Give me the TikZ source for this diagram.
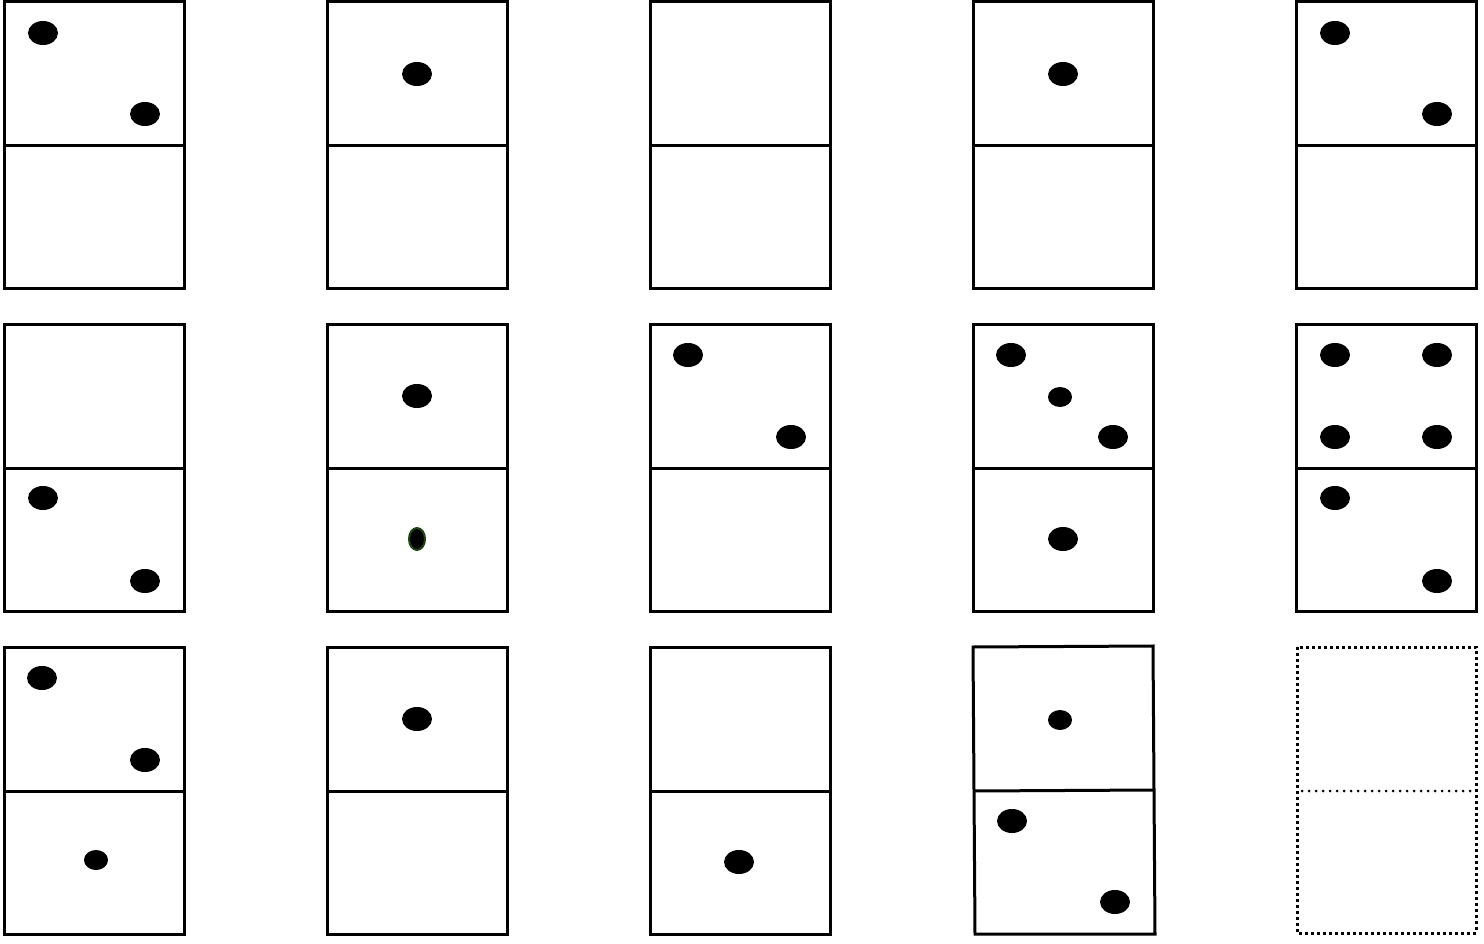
\documentclass[tikz,border=0pt]{standalone}
\definecolor{pipgreen}{RGB}{30,70,20}
\tikzset{
  tile/.style={draw=black,line width=3pt},
  halfline/.style={draw=black,line width=3pt},
  dottile/.style={draw=black,line width=3pt,dash pattern=on 3pt off 3pt},
  dothalf/.style={draw=black,line width=3pt,dash pattern=on 0pt off 7pt,line cap=round},
  pip/.style={fill=black},
}
\newcommand{\domino}[2]{%
  \draw[tile] (#1,#2) rectangle ++(180,287);
  \draw[halfline] (#1,#2+144) -- ++(180,0);
}
\newcommand{\bigpip}[2]{\fill[pip] (#1,#2) ellipse [x radius=15pt, y radius=12pt];}
\newcommand{\smallpip}[2]{\fill[pip] (#1,#2) ellipse [x radius=12pt, y radius=10pt];}
\begin{document}
\begin{tikzpicture}[x=1pt,y=-1pt]
\useasboundingbox (0,0) rectangle (1484,944);
% row 1
\domino{4}{2}\domino{327}{2}\domino{650}{2}\domino{973}{2}\domino{1296}{2}
\bigpip{43}{33}\bigpip{145}{114}
\bigpip{417}{74}
\bigpip{1063}{74}
\bigpip{1335}{33}\bigpip{1437}{114}
% row 2
\domino{4}{324}\domino{327}{324}\domino{650}{324}\domino{973}{324}\domino{1296}{324}
\bigpip{43}{498}\bigpip{145}{581}
\bigpip{417}{396}
\filldraw[fill=black,draw=pipgreen,line width=2pt] (417,539) ellipse [x radius=8pt, y radius=11pt];
\bigpip{688}{355}\bigpip{791}{437}
\bigpip{1011}{355}\smallpip{1060}{397}\bigpip{1113}{437}
\bigpip{1063}{539}
\bigpip{1335}{355}\bigpip{1437}{355}\bigpip{1335}{437}\bigpip{1437}{437}
\bigpip{1335}{498}\bigpip{1437}{581}
% row 3
\domino{4}{647}\domino{327}{647}\domino{650}{647}
\draw[tile] (973,647) -- (1153,646) -- (1155,934) -- (975,934) -- cycle;
\draw[halfline] (974,791) -- (1154,790);
\bigpip{42}{678}\bigpip{145}{760}\smallpip{96}{860}
\bigpip{417}{719}
\bigpip{739}{862}
\smallpip{1060}{720}\bigpip{1012}{821}\bigpip{1115}{902}
\draw[dottile] (1297,647) rectangle (1476,933);
\draw[dothalf] (1302,791) -- (1471,791);
\end{tikzpicture}
\end{document}
